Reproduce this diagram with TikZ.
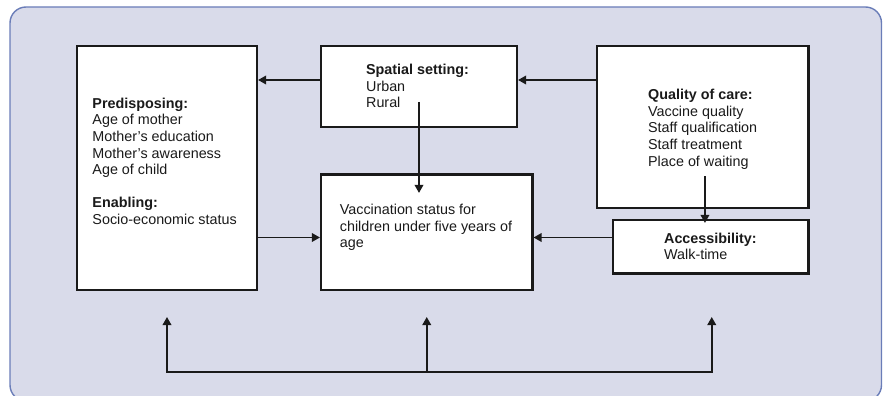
\documentclass[tikz,border=0pt]{standalone}
\usepackage{fontspec}
\setmainfont{Liberation Sans}
\usetikzlibrary{arrows.meta}
\definecolor{bgfill}{HTML}{D9DBEA}
\definecolor{bgline}{HTML}{6A7DB8}
\definecolor{ink}{HTML}{1A1A1A}
\begin{document}
\begin{tikzpicture}[x=1pt,y=-1pt,
  box/.style={draw=ink, line width=2.1pt, fill=white, inner sep=0pt},
  txt/.style={anchor=north west, align=left, inner sep=0pt, text=ink, font=\fontsize{14.35}{16.6}\selectfont},
  arr/.style={draw=ink, line width=1.8pt, -{Triangle[length=8pt,width=8.5pt]}},
  twoarr/.style={draw=ink, line width=1.8pt, line join=miter, {Triangle[length=8pt,width=8.5pt]}-{Triangle[length=8pt,width=8.5pt]}}]
\clip (0,0) rectangle (887,396);
\draw[fill=bgfill, draw=bgline, line width=1.4pt, rounded corners=16pt] (10,7) rectangle (881.5,401);

% boxes
\node[box, minimum width=180pt, minimum height=244pt] (pred) at (167,168) {};
\node[box, minimum width=196pt, minimum height=81pt] (spatial) at (419,86.5) {};
\node[box, minimum width=211.5pt, minimum height=115.5pt] (vacc) at (426.75,232.25) {};
\node[box, minimum width=211.5pt, minimum height=162pt] (quality) at (702.75,127) {};
\node[box, minimum width=195.5pt, minimum height=53.5pt] (access) at (710.75,246.75) {};

% texts
\node[txt] (predtext) at ([xshift=16.3pt, yshift=-52.8pt]pred.north west)
  {\textbf{Predisposing:}\\Age of mother\\Mother’s education\\Mother’s awareness\\Age of child\\[16.6pt]\textbf{Enabling:}\\Socio-economic status};
\node[txt] (spatialtext) at ([xshift=46pt, yshift=-19pt]spatial.north west)
  {\textbf{Spatial setting:}\\Urban\\Rural};
\node[txt] (vacctext) at ([xshift=19.7pt, yshift=-30.7pt]vacc.north west)
  {Vaccination status for\\children under five years of\\age};
\node[txt] (qualitytext) at ([xshift=52pt, yshift=-44.2pt]quality.north west)
  {\textbf{Quality of care:}\\Vaccine quality\\Staff qualification\\Staff treatment\\Place of waiting};
\node[txt] (accesstext) at ([xshift=52pt, yshift=-13.8pt]access.north west)
  {\textbf{Accessibility:}\\Walk-time};

% helper rows
\coordinate (r1) at (0,80);
\coordinate (r2) at (0,237.5);
\coordinate (r3) at (0,372);
\coordinate (r4) at (0,317);

% connectors
\draw[arr] (spatial.west |- r1) -- (pred.east |- r1);
\draw[arr] (quality.west |- r1) -- (spatial.east |- r1);
\draw[arr] ([yshift=-15.5pt]spatial.center) -- ([yshift=-19.5pt]spatial.center |- vacc.north);
\draw[arr] ([xshift=109pt,yshift=33pt]quality.south west) coordinate (qa) -- ([yshift=-4pt]qa |- access.north);
\draw[arr] (pred.east |- r2) -- (vacc.west |- r2);
\draw[arr] (access.west |- r2) -- (vacc.east |- r2);
\draw[twoarr] (pred.south |- r4) -- (pred.south |- r3) -- ([xshift=1pt]access.south |- r3) -- ([xshift=1pt]access.south |- r4);
\draw[arr] (vacc.south |- r3) -- (vacc.south |- r4);
\end{tikzpicture}
\end{document}
